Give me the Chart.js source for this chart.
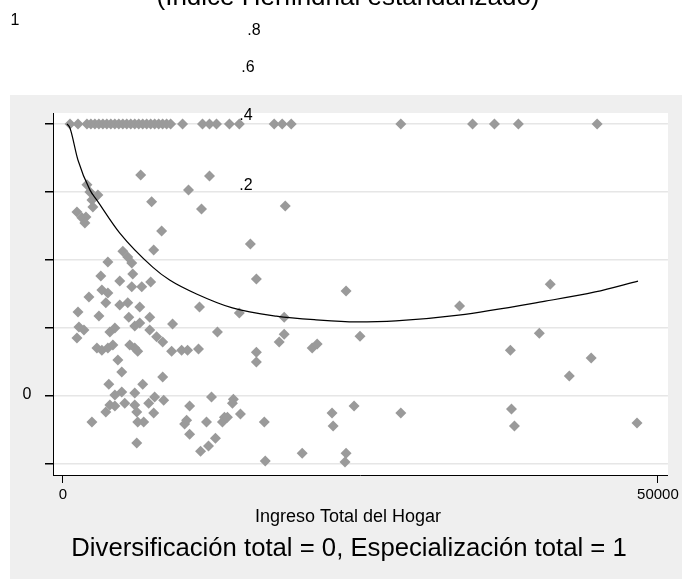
<!DOCTYPE html>
<html>
<head>
<meta charset="utf-8">
<script src="https://cdn.jsdelivr.net/npm/chart.js@4/dist/chart.umd.min.js"></script>
<style>
html,body{margin:0;padding:0;background:#fff;}
#wrap{width:682px;height:579px;position:relative;}
</style>
</head>
<body>
<div id="wrap"><canvas id="c" width="682" height="579"></canvas></div>
<script>
// ingreso total del hogar (x) e indice Herfindahl estandarizado (y) de cada hogar
const ingreso=[590,1260,2010,2345,2680,3015,3350,3685,4020,4355,4690,5025,5360,5695,6030,6365,6700,7035,7370,7705,8040,8375,8710,9045,10050,11725,12310,12900,13990,14820,17750,18420,19180,28390,34420,36260,38270,44890,
6530,12310,10550,7450,11640,18680,2010,2260,2930,2430,2510,1170,1590,1930,1840,8290,7620,15750,16250,5030,5440,5780,3770,3180,5860,4770,5780,6620,7370,
2180,3270,3770,3600,4770,5440,6450,11470,14820,18590,1260,3020,5530,7290,1340,1760,1170,3940,4360,6030,6450,9210,7290,7870,8380,12980,18590,18170,
2850,3270,3770,4190,5610,6030,6280,9130,9970,10470,11390,16250,16250,20940,21360,23790,24960,4610,4940,8380,3850,6700,6030,4360,4940,5190,3940,3600,4360,6030,6200,
7700,7200,8460,7620,6280,6780,2430,6200,10640,12480,10220,10390,10640,12060,14320,14240,14910,13570,13400,13820,12810,12230,11560,16920,17000,20100,22610,22700,23790,23700,
40950,33330,37600,40030,42550,44390,24460,28390,37690,37940,48240];
const indice=[1,1,1,1,1,1,1,1,1,1,1,1,1,1,1,1,1,1,1,1,1,1,1,1,1,1,1,1,1,1,1,1,1,1,1,1,1,1,
.850,.847,.806,.771,.750,.759,.821,.800,.791,.776,.756,.741,.724,.726,.709,.685,.629,.647,.544,.626,.609,.591,.594,.553,.559,.538,.521,.521,.535,
.491,.512,.503,.474,.468,.474,.462,.462,.444,.432,.447,.435,.432,.432,.403,.394,.371,.388,.400,.406,.415,.412,.394,.374,.359,.388,.382,.359,
.341,.335,.341,.350,.350,.341,.332,.332,.335,.335,.338,.329,.300,.341,.353,.509,.376,.306,.271,.256,.235,.235,.209,.203,.212,.179,.174,.153,.171,.174,.153,
.197,.179,.188,.150,.124,.124,.124,.062,.171,.197,.118,.129,.088,.124,.191,.179,.147,.138,.124,.138,.076,.053,.038,.124,.009,.032,.150,.112,.032,.006,
.529,.465,.335,.385,.259,.312,.171,.150,.162,.112,.121];

// curva ajustada
const ajusteIngreso=[335,586,1256,2261,2848,4774,7538,8961,11223,14238,17923,21273,24623,27973,33249,40535,44723,48324];
const ajusteIndice=[1.0,.988,.894,.806,.776,.679,.579,.541,.500,.459,.435,.424,.418,.421,.438,.479,.506,.538];

const ticksX=[0,50000];
const ticksY=[0,.2,.4,.6,.8,1];
// etiquetas sueltas tal como aparecen en la figura
const etiquetasY=['1','.8','.6','.4','.2','0'];

const puntos=ingreso.map((x,i)=>({x:x,y:indice[i]}));
const curva=ajusteIngreso.map((x,i)=>({x:x,y:ajusteIndice[i]}));

const FONT='Arial, "Liberation Sans", sans-serif';

const fondo={id:'fondo',beforeDraw(chart){
  const {ctx,chartArea:a}=chart;ctx.save();
  ctx.fillStyle='#fff';ctx.fillRect(0,0,chart.width,chart.height);
  ctx.fillStyle='#efefef';ctx.fillRect(10,95,chart.width-10,chart.height-95);
  ctx.fillStyle='#fff';ctx.fillRect(a.left,a.top,a.right-a.left,a.bottom-a.top);
  ctx.restore();
}};

const textos={id:'textos',afterDraw(chart){
  const ctx=chart.ctx;ctx.save();ctx.fillStyle='#000';ctx.textAlign='center';
  ctx.textBaseline='alphabetic';ctx.font='26px '+FONT;
  ctx.fillText('(Índice Herfindhal estandarizado)',348,5);
  ctx.textBaseline='middle';ctx.font='16px '+FONT;
  const pos=[[15,21],[254,31],[248,68],[246,116],[246,186],[27,395]];
  etiquetasY.forEach((t,i)=>ctx.fillText(t,pos[i][0],pos[i][1]));
  ctx.font='18px '+FONT;ctx.fillText('Ingreso Total del Hogar',348,517);
  ctx.font='25.7px '+FONT;ctx.fillText('Diversificación total = 0, Especialización total = 1',349,549);
  ctx.restore();
}};

new Chart(document.getElementById('c'),{
  type:'scatter',
  data:{datasets:[
    {label:'ajuste',data:curva,showLine:true,borderColor:'#000',borderWidth:1.2,pointRadius:0,fill:false,tension:0.4,cubicInterpolationMode:'monotone'},
    {label:'hogares',data:puntos,pointStyle:'rectRot',pointRadius:5.5,pointBackgroundColor:'#9a9a9a',pointBorderWidth:0,borderWidth:0}
  ]},
  options:{
    responsive:false,animation:false,devicePixelRatio:1,
    layout:{padding:{left:10,top:113,right:12,bottom:0}},
    plugins:{legend:{display:false},title:{display:false},tooltip:{enabled:false}},
    scales:{
      x:{type:'linear',min:-840,max:50840,
        afterBuildTicks:s=>{s.ticks=ticksX.map(v=>({value:v}));},
        afterFit:s=>{s.height=104;},
        grid:{drawOnChartArea:false,tickLength:8,tickColor:'#000'},
        border:{color:'#000',width:1},
        ticks:{font:{family:FONT,size:15},color:'#000',padding:3,maxRotation:0,autoSkip:false,callback:v=>String(v)}},
      y:{type:'linear',min:-0.032,max:1.032,
        afterBuildTicks:s=>{s.ticks=ticksY.map(v=>({value:v}));},
        afterFit:s=>{s.width=43;},
        grid:{color:'#e6e6e6',lineWidth:1.5,tickLength:8,tickColor:'#000'},
        border:{color:'#000',width:1},
        ticks:{display:false}}
    }
  },
  plugins:[fondo,textos]
});
</script>
</body>
</html>
